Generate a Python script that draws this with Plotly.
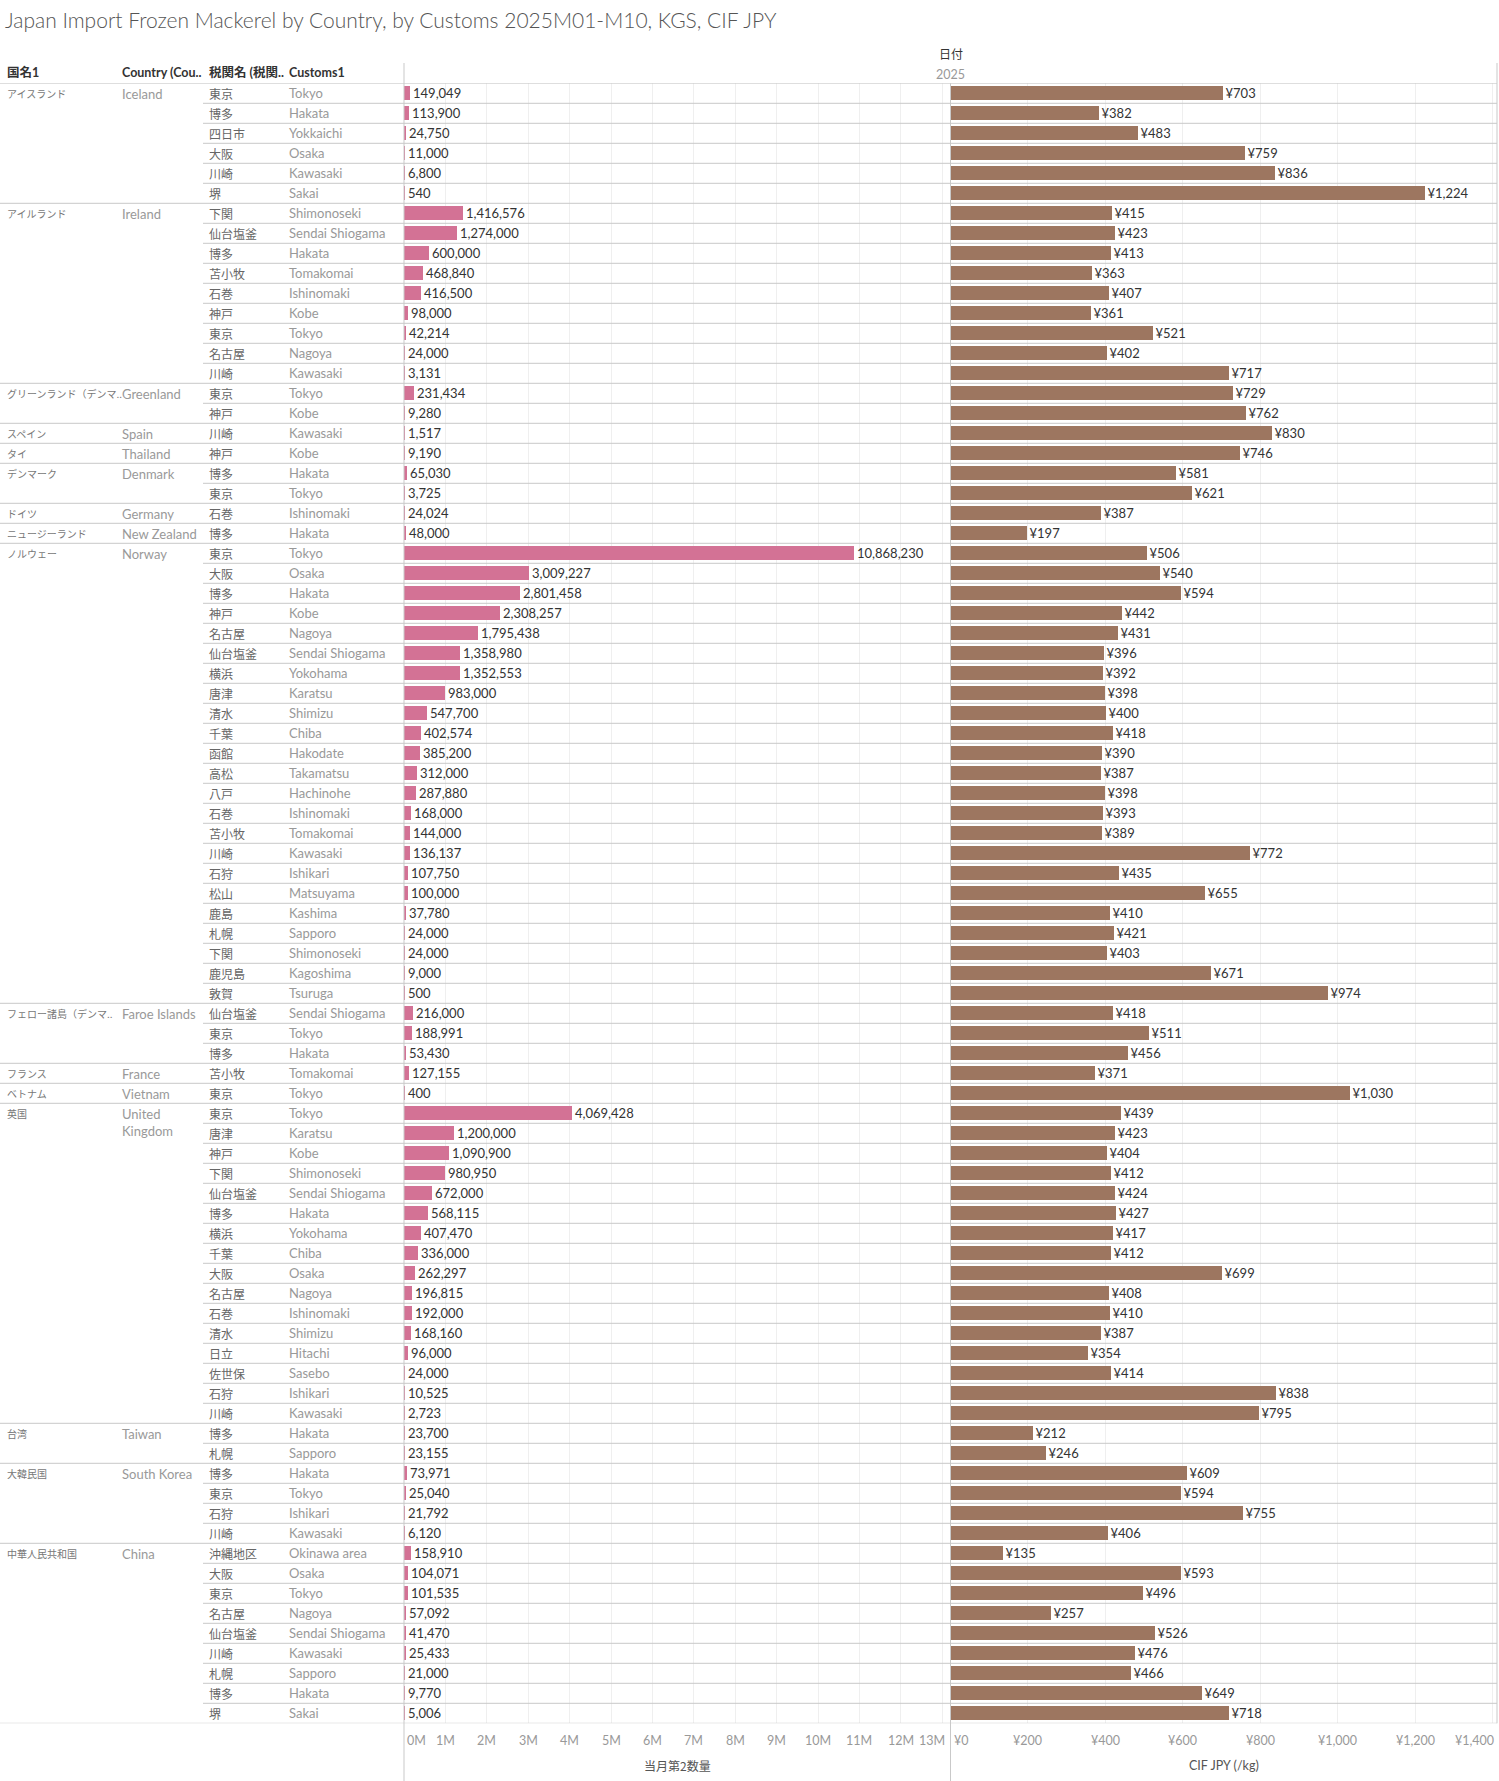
import plotly.graph_objects as go

# Japan import of frozen mackerel, 2025 M01-M10, by country and customs office
countries_jp = ["アイスランド", "アイルランド", "グリーンランド（デンマ..", "スペイン", "タイ",
                "デンマーク", "ドイツ", "ニュージーランド", "ノルウェー", "フェロー諸島（デンマ..",
                "フランス", "ベトナム", "英国", "台湾", "大韓民国", "中華人民共和国"]
countries_en = ["Iceland", "Ireland", "Greenland", "Spain", "Thailand",
                "Denmark", "Germany", "New Zealand", "Norway", "Faroe Islands",
                "France", "Vietnam", "United<br>Kingdom", "Taiwan", "South Korea", "China"]
rows_per_country = [6, 9, 2, 1, 1, 2, 1, 1, 23, 3, 1, 1, 16, 2, 4, 9]

customs_jp = [
    "東京", "博多", "四日市", "大阪", "川崎", "堺",
    "下関", "仙台塩釜", "博多", "苫小牧", "石巻", "神戸", "東京", "名古屋", "川崎",
    "東京", "神戸",
    "川崎",
    "神戸",
    "博多", "東京",
    "石巻",
    "博多",
    "東京", "大阪", "博多", "神戸", "名古屋", "仙台塩釜", "横浜", "唐津", "清水", "千葉",
    "函館", "高松", "八戸", "石巻", "苫小牧", "川崎", "石狩", "松山", "鹿島", "札幌",
    "下関", "鹿児島", "敦賀",
    "仙台塩釜", "東京", "博多",
    "苫小牧",
    "東京",
    "東京", "唐津", "神戸", "下関", "仙台塩釜", "博多", "横浜", "千葉", "大阪", "名古屋",
    "石巻", "清水", "日立", "佐世保", "石狩", "川崎",
    "博多", "札幌",
    "博多", "東京", "石狩", "川崎",
    "沖縄地区", "大阪", "東京", "名古屋", "仙台塩釜", "川崎", "札幌", "博多", "堺",
]
customs_en = [
    "Tokyo", "Hakata", "Yokkaichi", "Osaka", "Kawasaki", "Sakai",
    "Shimonoseki", "Sendai Shiogama", "Hakata", "Tomakomai", "Ishinomaki", "Kobe", "Tokyo", "Nagoya", "Kawasaki",
    "Tokyo", "Kobe",
    "Kawasaki",
    "Kobe",
    "Hakata", "Tokyo",
    "Ishinomaki",
    "Hakata",
    "Tokyo", "Osaka", "Hakata", "Kobe", "Nagoya", "Sendai Shiogama", "Yokohama", "Karatsu", "Shimizu", "Chiba",
    "Hakodate", "Takamatsu", "Hachinohe", "Ishinomaki", "Tomakomai", "Kawasaki", "Ishikari", "Matsuyama", "Kashima", "Sapporo",
    "Shimonoseki", "Kagoshima", "Tsuruga",
    "Sendai Shiogama", "Tokyo", "Hakata",
    "Tomakomai",
    "Tokyo",
    "Tokyo", "Karatsu", "Kobe", "Shimonoseki", "Sendai Shiogama", "Hakata", "Yokohama", "Chiba", "Osaka", "Nagoya",
    "Ishinomaki", "Shimizu", "Hitachi", "Sasebo", "Ishikari", "Kawasaki",
    "Hakata", "Sapporo",
    "Hakata", "Tokyo", "Ishikari", "Kawasaki",
    "Okinawa area", "Osaka", "Tokyo", "Nagoya", "Sendai Shiogama", "Kawasaki", "Sapporo", "Hakata", "Sakai",
]
qty_kg = [
    149049, 113900, 24750, 11000, 6800, 540,
    1416576, 1274000, 600000, 468840, 416500, 98000, 42214, 24000, 3131,
    231434, 9280,
    1517,
    9190,
    65030, 3725,
    24024,
    48000,
    10868230, 3009227, 2801458, 2308257, 1795438, 1358980, 1352553, 983000, 547700, 402574,
    385200, 312000, 287880, 168000, 144000, 136137, 107750, 100000, 37780, 24000,
    24000, 9000, 500,
    216000, 188991, 53430,
    127155,
    400,
    4069428, 1200000, 1090900, 980950, 672000, 568115, 407470, 336000, 262297, 196815,
    192000, 168160, 96000, 24000, 10525, 2723,
    23700, 23155,
    73971, 25040, 21792, 6120,
    158910, 104071, 101535, 57092, 41470, 25433, 21000, 9770, 5006,
]
cif_jpy = [
    703, 382, 483, 759, 836, 1224,
    415, 423, 413, 363, 407, 361, 521, 402, 717,
    729, 762,
    830,
    746,
    581, 621,
    387,
    197,
    506, 540, 594, 442, 431, 396, 392, 398, 400, 418,
    390, 387, 398, 393, 389, 772, 435, 655, 410, 421,
    403, 671, 974,
    418, 511, 456,
    371,
    1030,
    439, 423, 404, 412, 424, 427, 417, 412, 699, 408,
    410, 387, 354, 414, 838, 795,
    212, 246,
    609, 594, 755, 406,
    135, 593, 496, 257, 526, 476, 466, 649, 718,
]

qty_ticks = [m * 1_000_000 for m in range(14)]
qty_tick_labels = ["0M", "1M", "2M", "3M", "4M", "5M", "6M", "7M", "8M", "9M", "10M", "11M", "12M", "13M"]
price_ticks = [0, 200, 400, 600, 800, 1000, 1200, 1400]
price_tick_labels = ["¥0", "¥200", "¥400", "¥600", "¥800", "¥1,000", "¥1,200", "¥1,400"]

W, H = 1499, 1781
TOP, ROW = 83.3, 20
n = len(qty_kg)
BOTTOM = TOP + n * ROW
LEFT_PANE, MID, RIGHT = 404, 950.5, 1497

LINE = "#c9c9c9"
GRID = "#efefef"
FONT = "Lato, Noto Sans CJK JP, sans-serif"
JP = "Noto Sans CJK JP, sans-serif"


def px(x):
    return x / W


def py(y):
    return 1 - y / H


rows = list(range(n))

fig = go.Figure()
fig.add_trace(go.Bar(
    x=qty_kg, y=rows, orientation="h", xaxis="x", yaxis="y",
    marker=dict(color="#d37295", line=dict(width=0)), width=0.74,
    texttemplate="%{x:,}", textposition="outside", constraintext="none",
    textfont=dict(family=FONT, size=13, color="#333333"), cliponaxis=False,
    hoverinfo="skip", showlegend=False,
))
fig.add_trace(go.Bar(
    x=cif_jpy, y=rows, orientation="h", xaxis="x2", yaxis="y",
    marker=dict(color="#9d7660", line=dict(width=0)), width=0.74,
    texttemplate="¥%{x:,}", textposition="outside", constraintext="none",
    textfont=dict(family=FONT, size=13, color="#333333"), cliponaxis=False,
    hoverinfo="skip", showlegend=False,
))

ann = []
shapes = []

# row labels
for i in rows:
    ann.append(dict(xref="paper", yref="y", x=px(207), y=i, text=customs_jp[i],
                    xanchor="left", yanchor="middle", showarrow=False,
                    font=dict(family=JP, size=12, color="#666666")))
    ann.append(dict(xref="paper", yref="y", x=px(287), y=i, text=customs_en[i],
                    xanchor="left", yanchor="middle", showarrow=False,
                    font=dict(family=FONT, size=13, color="#999999")))

starts = []
s = 0
for c in rows_per_country:
    starts.append(s)
    s += c

for k, s in enumerate(starts):
    ann.append(dict(xref="paper", yref="y", x=px(5), y=s - 0.5, yshift=-1, text=countries_jp[k],
                    xanchor="left", yanchor="top", showarrow=False,
                    font=dict(family=JP, size=10, color="#777777")))
    ann.append(dict(xref="paper", yref="y", x=px(120), y=s - 0.5, yshift=-1, text=countries_en[k],
                    xanchor="left", yanchor="top", showarrow=False, align="left",
                    font=dict(family=FONT, size=13, color="#999999")))

# column headers
for x, t in [(5, "国名1"), (120, "Country (Cou.."), (207, "税関名 (税関.."), (287, "Customs1")]:
    ann.append(dict(xref="paper", yref="paper", x=px(x), y=py(73), text="<b>" + t + "</b>",
                    xanchor="left", yanchor="middle", showarrow=False,
                    font=dict(family=FONT, size=12.5, color="#333333")))
ann.append(dict(xref="paper", yref="paper", x=px((LEFT_PANE + RIGHT) / 2), y=py(53), text="日付",
                xanchor="center", yanchor="middle", showarrow=False,
                font=dict(family=JP, size=12, color="#333333")))
ann.append(dict(xref="paper", yref="paper", x=px((LEFT_PANE + RIGHT) / 2), y=py(74), text="2025",
                xanchor="center", yanchor="middle", showarrow=False,
                font=dict(family=FONT, size=12.5, color="#999999")))

# axis tick labels
for j, (v, t) in enumerate(zip(qty_ticks, qty_tick_labels)):
    anchor = "left" if j == 0 else ("right" if j == len(qty_ticks) - 1 else "center")
    shift = 1 if j == 0 else (5 if j == len(qty_ticks) - 1 else 0)
    ann.append(dict(xref="x", yref="paper", x=v, y=py(1740), xshift=shift, text=t,
                    xanchor=anchor, yanchor="middle", showarrow=False,
                    font=dict(family=FONT, size=12.5, color="#999999")))
for j, (v, t) in enumerate(zip(price_ticks, price_tick_labels)):
    anchor = "left" if j == 0 else ("right" if j == len(price_ticks) - 1 else "center")
    shift = 1 if j == 0 else (3 if j == len(price_ticks) - 1 else 0)
    ann.append(dict(xref="x2", yref="paper", x=v, y=py(1740), xshift=shift, text=t,
                    xanchor=anchor, yanchor="middle", showarrow=False,
                    font=dict(family=FONT, size=12.5, color="#999999")))

# axis titles
ann.append(dict(xref="paper", yref="paper", x=px((LEFT_PANE + MID) / 2), y=py(1765), text="当月第2数量",
                xanchor="center", yanchor="middle", showarrow=False,
                font=dict(family=JP, size=12, color="#555555")))
ann.append(dict(xref="paper", yref="paper", x=px((MID + RIGHT) / 2), y=py(1765), text="CIF JPY (/kg)",
                xanchor="center", yanchor="middle", showarrow=False,
                font=dict(family=FONT, size=12.5, color="#555555")))

# row separators: full width between countries, from the customs column inside a country
boundaries = set(starts)
for i in range(1, n):
    x0 = 0 if i in boundaries else 203
    shapes.append(dict(type="line", xref="paper", yref="y", x0=px(x0), x1=px(RIGHT),
                       y0=i - 0.5, y1=i - 0.5, line=dict(color=LINE, width=1)))
for yy in (-0.5, n - 0.5):
    shapes.append(dict(type="line", xref="paper", yref="y", x0=0, x1=px(RIGHT),
                       y0=yy, y1=yy, line=dict(color=LINE, width=1)))

# pane borders
shapes.append(dict(type="line", xref="paper", yref="paper", x0=px(LEFT_PANE), x1=px(LEFT_PANE),
                   y0=py(63), y1=0, line=dict(color=LINE, width=1)))
shapes.append(dict(type="line", xref="paper", yref="paper", x0=px(MID), x1=px(MID),
                   y0=py(TOP), y1=0, line=dict(color=LINE, width=1)))
shapes.append(dict(type="line", xref="paper", yref="paper", x0=px(RIGHT), x1=px(RIGHT),
                   y0=py(63), y1=py(BOTTOM), line=dict(color=LINE, width=1)))

fig.update_layout(
    width=W, height=H,
    margin=dict(l=0, r=0, t=0, b=0),
    paper_bgcolor="white", plot_bgcolor="white",
    bargap=0, barmode="overlay",
    title=dict(text="Japan Import Frozen Mackerel by Country, by Customs 2025M01-M10, KGS, CIF JPY",
               x=px(5), xanchor="left", xref="paper", y=py(21), yanchor="middle", yref="paper",
               font=dict(family="Lato, sans-serif", size=21, color="#555555", weight=300)),
    xaxis=dict(domain=[px(LEFT_PANE), px(MID)], range=[0, 13_200_000], anchor="y",
               tick0=0, dtick=1_000_000, showgrid=True, gridcolor=GRID, gridwidth=1,
               showticklabels=False, zeroline=False, showline=False, fixedrange=True),
    xaxis2=dict(domain=[px(MID), px(RIGHT)], range=[0, 1411], anchor="y",
                tick0=0, dtick=200, showgrid=True, gridcolor=GRID, gridwidth=1,
                showticklabels=False, zeroline=False, showline=False, fixedrange=True),
    yaxis=dict(domain=[py(BOTTOM), py(TOP)], range=[n - 0.5, -0.5], anchor="x",
               showgrid=False, zeroline=False, showticklabels=False, showline=False, fixedrange=True),
    annotations=ann,
    shapes=shapes,
)

fig.write_html("out.html", config={"displayModeBar": False},
               post_script="document.body.style.margin='0';")
